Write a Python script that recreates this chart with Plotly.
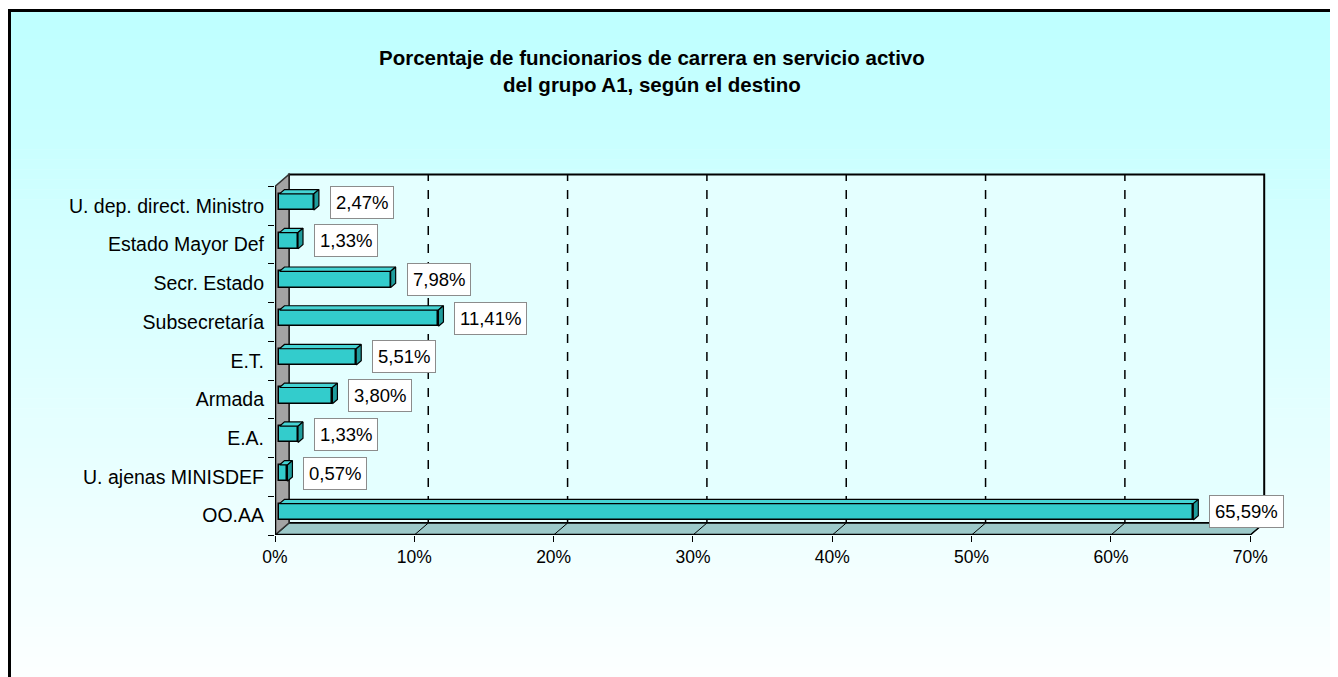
import plotly.graph_objects as go

# ---------------- data ----------------
categories = ["OO.AA", "U. ajenas MINISDEF", "E.A.", "Armada", "E.T.",
              "Subsecretaría", "Secr. Estado", "Estado Mayor Def",
              "U. dep. direct. Ministro"]
values = [65.59, 0.57, 1.33, 3.80, 5.51, 11.41, 7.98, 1.33, 2.47]
x_ticks = [0, 10, 20, 30, 40, 50, 60, 70]
x_tick_labels = ["0%", "10%", "20%", "30%", "40%", "50%", "60%", "70%"]
title_text = "Porcentaje de funcionarios de carrera en servicio activo<br>del grupo A1, según el destino"

# ---------------- geometry / style ----------------
OFF = 8                      # page body margin
W, H = 1338 - OFF, 677 - OFF
ML, MT = 275 - OFF, 171 - OFF
PW, PH = 992, 364
MR, MB = W - ML - PW, H - MT - PH
XMAX, YMAX = 71.2, 9.4
DX, DY = 1.0, 0.31          # 3-D depth offset (x in %, y in category units)
F0 = 0.32                   # front face of bars at this depth fraction
BD = 0.36                   # bar depth fraction
BH = 0.42                   # bar thickness (category units)
NCAT = len(categories)
XTOP = x_ticks[-1]
FONT = "Liberation Sans, Arial, sans-serif"

BAR_FRONT = "#33CCCC"
BAR_TOP = "#45D4D4"
BAR_SIDE = "#1F9C9C"

fig = go.Figure()

ox, oy = F0 * DX, F0 * DY
bdx, bdy = BD * DX, BD * DY
centers = [i + 0.5 + oy for i in range(NCAT)]

# front faces
fig.add_trace(go.Bar(
    orientation="h", y=centers, x=values, base=ox, width=BH,
    marker=dict(color=BAR_FRONT, line=dict(color="black", width=1.5)),
    hoverinfo="skip", showlegend=False))

# top faces and right faces
tx, ty, sx, sy = [], [], [], []
for v, c in zip(values, centers):
    y0, y1 = c - BH / 2, c + BH / 2
    x1 = ox + v
    tx += [ox, x1, x1 + bdx, ox + bdx, ox, None]
    ty += [y1, y1, y1 + bdy, y1 + bdy, y1, None]
    sx += [x1, x1 + bdx, x1 + bdx, x1, x1, None]
    sy += [y0, y0 + bdy, y1 + bdy, y1, y0, None]
fig.add_trace(go.Scatter(x=tx, y=ty, mode="lines", fill="toself",
                         fillcolor=BAR_TOP, line=dict(color="black", width=1.2),
                         hoverinfo="skip", showlegend=False))
fig.add_trace(go.Scatter(x=sx, y=sy, mode="lines", fill="toself",
                         fillcolor=BAR_SIDE, line=dict(color="black", width=1.2),
                         hoverinfo="skip", showlegend=False))

# data labels
for v, c in zip(values, centers):
    lab = f"{v:.2f}".replace(".", ",") + "%"
    fig.add_annotation(x=ox + v + bdx, y=c, xref="x", yref="y", text=lab,
                       showarrow=False, xanchor="left", yanchor="middle", xshift=11,
                       font=dict(family=FONT, size=18.5, color="black"),
                       bgcolor="white", bordercolor="#8c8c8c", borderwidth=1, borderpad=5)

shapes = []

# page pixel -> paper coords
def px2x(p):
    return (p - OFF - ML) / PW

def py2y(p):
    return (H - MB - (p - OFF)) / PH

top_c, bot_c = (190, 255, 255), (252, 255, 255)
nb = 67
for k in range(nb):
    p0 = 10 + k * (677 - 10) / nb
    p1 = 10 + (k + 1) * (677 - 10) / nb + 0.5
    t = k / (nb - 1)
    col = tuple(round(a + (b - a) * t) for a, b in zip(top_c, bot_c))
    shapes.append(dict(type="rect", xref="paper", yref="paper", layer="below",
                       x0=px2x(9), x1=px2x(1342), y0=py2y(p1), y1=py2y(p0),
                       fillcolor=f"rgb{col}", line=dict(width=0)))
# outer border
shapes.append(dict(type="line", xref="paper", yref="paper", layer="below",
                   x0=px2x(8), x1=px2x(1342), y0=py2y(10.5), y1=py2y(10.5),
                   line=dict(color="black", width=3)))
shapes.append(dict(type="line", xref="paper", yref="paper", layer="below",
                   x0=px2x(9.5), x1=px2x(9.5), y0=py2y(9), y1=py2y(680),
                   line=dict(color="black", width=3)))

# back wall
shapes.append(dict(type="rect", xref="x", yref="y", layer="below",
                   x0=DX, x1=XTOP + DX, y0=DY, y1=NCAT + DY,
                   fillcolor="#E4FFFF", line=dict(color="black", width=2)))
# gridlines on back wall
for t in x_ticks[1:-1]:
    shapes.append(dict(type="line", xref="x", yref="y", layer="below",
                       x0=t + DX, x1=t + DX, y0=DY, y1=NCAT + DY,
                       line=dict(color="black", width=1.5, dash="dash")))
# floor
shapes.append(dict(type="path", xref="x", yref="y", layer="below",
                   path=f"M 0 0 L {XTOP} 0 L {XTOP + DX} {DY} L {DX} {DY} Z",
                   fillcolor="#9CC9C9", line=dict(color="black", width=1.5)))
for t in x_ticks[1:]:
    shapes.append(dict(type="line", xref="x", yref="y", layer="below",
                       x0=t, x1=t + DX, y0=0, y1=DY,
                       line=dict(color="black", width=1)))
# left wall
shapes.append(dict(type="path", xref="x", yref="y", layer="below",
                   path=f"M 0 0 L {DX} {DY} L {DX} {NCAT + DY} L 0 {NCAT} Z",
                   fillcolor="#A3A3A3", line=dict(color="#333333", width=1.5)))
# front edges (thicker)
shapes.append(dict(type="line", xref="x", yref="y", layer="below",
                   x0=0, x1=XTOP, y0=0, y1=0, line=dict(color="black", width=2.5)))
shapes.append(dict(type="line", xref="x", yref="y", layer="below",
                   x0=0, x1=0, y0=0, y1=NCAT, line=dict(color="black", width=2.5)))

fig.update_layout(
    width=W, height=H,
    margin=dict(l=ML, r=MR, t=MT, b=MB, pad=0),
    paper_bgcolor="white", plot_bgcolor="rgba(0,0,0,0)",
    shapes=shapes,
    showlegend=False,
    bargap=0,
    font=dict(family=FONT, size=18, color="black"),
    xaxis=dict(range=[0, XMAX], tickmode="array", tickvals=x_ticks, ticktext=x_tick_labels,
               ticks="outside", ticklen=6, tickcolor="black", tickwidth=1,
               showgrid=False, zeroline=False, showline=False, fixedrange=True,
               tickfont=dict(family=FONT, size=17.5, color="black")),
    yaxis=dict(range=[0, YMAX], tickmode="array",
               tickvals=[i + 0.5 for i in range(NCAT)], ticktext=categories,
               ticks="", showgrid=False, zeroline=False, showline=False, fixedrange=True,
               ticklabelstandoff=10,
               minor=dict(tickmode="array", tickvals=list(range(NCAT + 1)),
                          ticks="outside", ticklen=6, tickcolor="black", tickwidth=1),
               tickfont=dict(family=FONT, size=19.5, color="black")),
)

fig.add_annotation(x=px2x(652), y=py2y(71), xref="paper", yref="paper",
                   text=title_text, showarrow=False, xanchor="center", yanchor="middle",
                   font=dict(family=FONT, size=20.5, color="black", weight="bold"))

fig.write_html("out.html")
